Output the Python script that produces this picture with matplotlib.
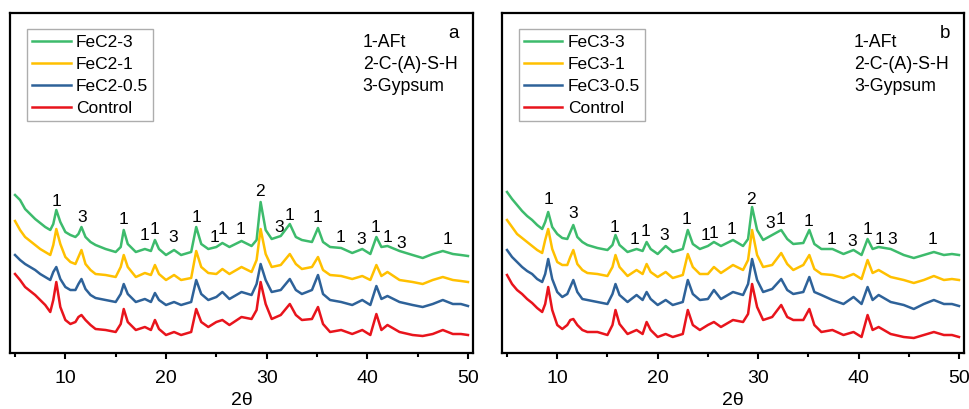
import matplotlib
matplotlib.use("Agg")
import matplotlib.pyplot as plt
from matplotlib.ticker import MultipleLocator

plt.rcParams['font.family'] = ['Liberation Sans', 'DejaVu Sans']

# 2theta positions (deg)
two_theta = [5, 5.5, 6, 6.5, 7, 7.5, 8, 8.5, 8.8, 9.1, 9.5, 10, 10.5, 11, 11.3, 11.6, 12, 12.5, 13, 14,
             15, 15.5, 15.8, 16.2, 17, 17.9, 18.5, 18.9, 19.3, 20, 20.8, 21.5, 22.5, 23.0, 23.5, 24.2,
             25.0, 25.6, 26.3, 27.5, 28.5, 29.0, 29.4, 29.9, 30.5, 31.4, 32.3, 32.9, 33.5, 34.5, 35.1,
             35.6, 36.3, 37.4, 38.5, 39.5, 40.3, 40.9, 41.4, 42.0, 43.2, 44.5, 45.5, 46.5, 47.5, 48.5,
             49.3, 50]

# intensity (a.u., stacked) - panel a
fec2_3 = [158, 153, 144, 139, 134, 130, 126, 123, 129, 143, 131, 121, 118, 116, 119, 126, 116, 111, 108, 104,
          101, 106, 123, 109, 101, 104, 102, 113, 104, 98, 103, 98, 101, 126, 109, 104,
          106, 110, 106, 112, 107, 113, 151, 123, 114, 117, 129, 116, 113, 111, 125,
          111, 106, 105, 100, 104, 99, 116, 106, 107, 102, 98, 95, 99, 102, 99,
          98, 97]
fec2_1 = [132, 123, 116, 112, 108, 104, 101, 98, 108, 124, 109, 96, 91, 89, 96, 103, 89, 83, 79, 78,
          76, 86, 98, 86, 76, 80, 78, 88, 79, 73, 78, 73, 75, 102, 86, 80,
          79, 84, 79, 86, 81, 93, 124, 99, 86, 88, 99, 89, 84, 86, 96,
          83, 78, 77, 74, 77, 73, 88, 77, 81, 73, 71, 69, 73, 76, 73,
          72, 71]
fec2_05 = [98, 93, 89, 86, 83, 79, 76, 73, 81, 86, 74, 66, 63, 63, 69, 74, 64, 58, 55, 53,
           51, 59, 69, 59, 51, 54, 51, 60, 53, 48, 51, 48, 51, 73, 59, 53,
           56, 61, 54, 61, 58, 69, 89, 73, 61, 63, 74, 63, 59, 63, 78,
           59, 53, 51, 48, 53, 48, 67, 54, 57, 51, 48, 46, 49, 53, 49,
           49, 47]
control_a = [79, 73, 66, 62, 58, 53, 48, 41, 53, 71, 46, 33, 29, 31, 36, 38, 33, 28, 24, 23,
             21, 29, 44, 31, 23, 26, 23, 33, 24, 18, 21, 18, 21, 44, 31, 26,
             31, 33, 28, 36, 34, 43, 71, 49, 34, 38, 49, 38, 33, 34, 46,
             29, 21, 23, 19, 23, 18, 39, 23, 28, 21, 18, 17, 19, 23, 19,
             19, 18]

# panel b
fec3_3 = [161, 154, 148, 142, 137, 133, 128, 124, 131, 141, 126, 119, 115, 114, 121, 128, 116, 111, 108, 105,
          103, 108, 118, 108, 101, 104, 102, 111, 104, 99, 107, 101, 104, 123, 109, 104,
          107, 111, 107, 113, 107, 114, 146, 123, 113, 118, 123, 114, 109, 110, 123,
          109, 104, 104, 99, 103, 98, 114, 104, 106, 104, 98, 95, 98, 101, 98,
          99, 98]
fec3_1 = [133, 126, 119, 115, 111, 107, 103, 100, 113, 124, 104, 91, 88, 88, 96, 103, 89, 83, 80, 79,
          77, 86, 98, 86, 77, 83, 79, 89, 81, 76, 81, 75, 78, 99, 86, 79,
          79, 86, 80, 88, 83, 93, 123, 98, 86, 88, 100, 89, 83, 88, 98,
          84, 79, 78, 75, 79, 74, 93, 80, 83, 76, 73, 70, 73, 77, 73,
          74, 73]
fec3_05 = [103, 96, 91, 86, 82, 79, 74, 71, 79, 94, 74, 61, 56, 59, 66, 73, 61, 54, 53, 51,
           49, 59, 69, 58, 51, 58, 53, 61, 54, 48, 53, 48, 51, 73, 59, 53,
           54, 63, 54, 61, 58, 69, 94, 73, 61, 64, 74, 63, 59, 61, 76,
           61, 58, 53, 49, 56, 49, 66, 53, 58, 51, 48, 44, 49, 53, 49,
           49, 47]
control_b = [78, 69, 63, 59, 54, 50, 45, 41, 49, 66, 43, 28, 24, 28, 33, 34, 28, 23, 21, 21,
             18, 28, 43, 29, 19, 23, 19, 31, 23, 16, 19, 16, 19, 43, 28, 23,
             28, 31, 26, 33, 31, 39, 69, 46, 33, 36, 48, 36, 33, 33, 44,
             28, 21, 23, 18, 21, 16, 38, 23, 26, 19, 16, 15, 18, 21, 18,
             18, 16]

# peak labels: phase number, 2theta, height
peaks_a_phase = ['1', '3', '1', '1', '1', '3', '1', '1', '1', '1', '2', '3', '1', '1', '1', '3', '1', '1', '3', '1']
peaks_a_x = [9.1, 11.65, 15.8, 17.85, 18.85, 20.7, 23.0, 24.8, 25.6, 27.4, 29.35, 31.2, 32.25, 35.1, 37.3, 39.4, 40.8, 42.0, 43.4, 48.0]
peaks_a_y = [151, 135, 133, 117, 123, 116, 136, 116, 123, 123, 161, 126, 138, 135, 115, 114, 126, 116, 109, 113]

peaks_b_phase = ['1', '3', '1', '1', '1', '3', '1', '1', '1', '1', '2', '3', '1', '1', '1', '3', '1', '1', '3', '1']
peaks_b_x = [9.1, 11.6, 15.7, 17.7, 18.8, 20.65, 22.9, 24.75, 25.6, 27.35, 29.3, 31.2, 32.25, 35.0, 37.35, 39.4, 40.85, 42.05, 43.35, 47.35]
peaks_b_y = [153, 140, 126, 113, 122, 118, 134, 118, 120, 123, 154, 130, 133, 131, 113, 112, 124, 113, 113, 113]

colors = ['#3dbb6c', '#ffc000', '#2e6299', '#e8141c']


def draw_panel(ax, series, names, phase, px, py, letter):
    for y, name, c in zip(series, names, colors):
        ax.plot(two_theta, y, color=c, lw=1.8, label=name)
    for t, x, y in zip(phase, px, py):
        ax.text(x, y, t, ha='center', va='center', fontsize=12.5)
    ax.set_xlim(4.5, 50.5)
    ax.set_ylim(0, 340)
    ax.set_yticks([])
    ax.xaxis.set_major_locator(MultipleLocator(10))
    ax.xaxis.set_minor_locator(MultipleLocator(5))
    ax.tick_params(axis='x', which='major', direction='out', length=4, width=1.5, labelsize=14, pad=8)
    ax.tick_params(axis='x', which='minor', direction='out', length=3, width=1.5)
    for s in ax.spines.values():
        s.set_linewidth(1.6)
    ax.set_xlabel('2θ', fontsize=14, labelpad=4)
    leg = ax.legend(loc='upper left', bbox_to_anchor=(0.037, 0.952), fontsize=12.5,
                    frameon=True, fancybox=False, handlelength=2.2, handletextpad=0.3,
                    labelspacing=0.4, borderpad=0.3, borderaxespad=0)
    leg.get_frame().set_edgecolor('#999999')
    leg.get_frame().set_linewidth(1.0)
    for i, t in enumerate(['1-AFt', '2-C-(A)-S-H', '3-Gypsum']):
        ax.text(0.762, 0.913 - i * 0.064, t, transform=ax.transAxes, ha='left', va='center', fontsize=12.8)
    ax.text(0.958, 0.94, letter, transform=ax.transAxes, ha='center', va='center', fontsize=13.5)


fig = plt.figure(figsize=(9.69, 4.09), dpi=100)
ax1 = fig.add_axes([10 / 969, 56 / 409, 463 / 969, 340 / 409])
ax2 = fig.add_axes([502 / 969, 56 / 409, 462 / 969, 340 / 409])

draw_panel(ax1, [fec2_3, fec2_1, fec2_05, control_a], ['FeC2-3', 'FeC2-1', 'FeC2-0.5', 'Control'],
           peaks_a_phase, peaks_a_x, peaks_a_y, 'a')
draw_panel(ax2, [fec3_3, fec3_1, fec3_05, control_b], ['FeC3-3', 'FeC3-1', 'FeC3-0.5', 'Control'],
           peaks_b_phase, peaks_b_x, peaks_b_y, 'b')

fig.savefig('out.png', dpi=100)
